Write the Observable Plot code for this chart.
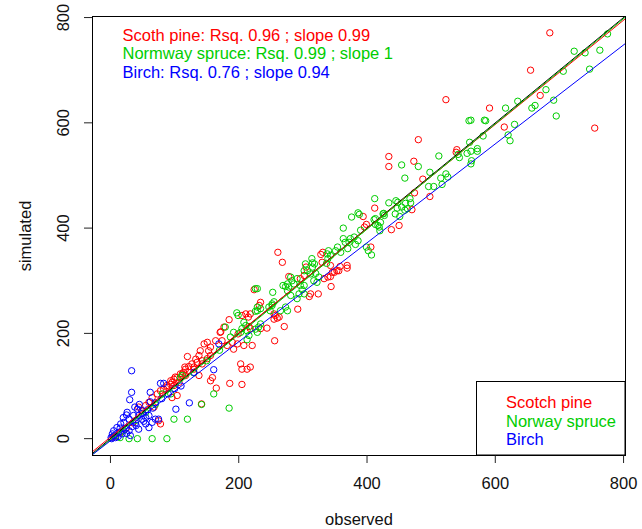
<!DOCTYPE html>
<html><head><meta charset="utf-8">
<script src="https://cdn.jsdelivr.net/npm/d3@7"></script>
<script src="https://cdn.jsdelivr.net/npm/@observablehq/plot@0.6"></script>
<style>body{margin:0;background:#fff;}</style>
</head><body><div id="chart"></div>
<script>
// ---- data ----
const species = ["Scotch pine", "Norway spruce", "Birch"];
const colors = ["#FF0000", "#00CD00", "#0000FF"];
const annotations = [
  "Scoth pine: Rsq. 0.96 ; slope 0.99",
  "Normway spruce: Rsq. 0.99 ; slope 1",
  "Birch: Rsq. 0.76 ; slope 0.94"
];
const slopes = [0.99, 1, 0.94];
const intercepts = [3, -2, -4];
const xTicks = [0, 200, 400, 600, 800];
const yTicks = [0, 200, 400, 600, 800];
const xLabel = "observed";
const yLabel = "simulated";

const pine = [
[685,771],[655,700],[670,652],[591,628],[614,592],[755,590],
[523,644],[480,568],[540,549],[539,544],[434,536],[434,517],[473,527],[487,493],[498,460],[474,467],[412,438],[394,422],[399,407],[450,405],[438,397],[396,402],[470,435],
[406,364],[261,354],[268,335],[331,354],[328,350],[330,335],[343,329],[353,319],[356,319],[349,316],[358,327],[369,329],[369,324],[343,308],[346,316],[339,307],[333,304],[344,289],[324,275],[310,270],[292,246],[305,326],[302,310],[296,304],[224,283],[234,259],[218,237],[205,234],[255,237],[263,231],[312,275],
[278,308],[232,253],[271,213],[257,234],[260,229],[255,227],[256,186],[215,231],[211,237],[185,226],[177,212],[172,203],[216,213],[218,209],[234,209],[244,210],[208,177],[221,177],[203,142],[213,132],[205,132],[218,136],[186,105],[205,103],[165,96],[199,199],[198,180],[190,183],[192,170],[182,177],[174,186],[171,202],[164,186],[156,174],[151,183],[146,180],[153,167],[140,167],[156,158],[151,152],[143,148],[135,145],[127,142],[130,136],[122,137],[117,132],[114,126],[109,123],[104,116],[99,113],[96,107],[94,103],[88,101],[83,94],[159,116],[156,110],[138,120],[117,120],[142,66],
[120,156],[133,151],[138,158],[143,142],[130,132],[116,136],[112,123],[101,117],[94,110],[107,107],[99,101],[88,98],[78,91],[73,85],[65,78],[60,69],[55,63],[68,60],[49,53],[44,60],[75,34],[78,28],[96,78],[104,82],
[5,3],[15,12],[25,20],[35,30]
];
const spruce = [
[723,736],[706,698],[747,702],[679,663],[662,633],[657,628],[635,641],[616,628],[691,643],[695,613],[583,605],[562,605],[630,597],[620,577],[623,566],[581,575],[572,551],[775,769],[763,738],[740,733],
[559,604],[585,604],[560,563],[572,546],[562,546],[556,542],[544,534],[542,540],[512,537],[563,528],[562,522],[454,520],[480,517],[459,495],[498,506],[523,503],[526,497],[515,495],[517,483],[504,479],[496,479],[412,456],[434,448],[445,452],[448,449],[460,447],[467,456],[468,448],[447,438],[454,440],[463,437],[459,434],[426,428],[413,418],[421,411],[444,427],[451,422],[419,402],[413,407],
[376,421],[386,429],[388,426],[363,400],[390,396],[411,416],[420,395],[417,405],[425,427],[427,424],[380,383],[374,380],[363,380],[366,373],[372,373],[386,376],[382,369],[354,364],[351,357],[370,361],[359,354],[402,357],[407,349],[399,364],[340,357],[338,351],[343,348],[339,342],[337,333],[314,342],[318,332],[315,326],[307,319],[320,314],[302,319],[304,332],[315,334],[312,313],[325,307],[322,297],[317,300],[281,307],[283,300],[291,304],[278,288],[286,294],[296,291],[302,291],[253,278],[229,285],[226,285],[255,260],[276,281],[281,272],[291,266],[299,283],[302,275],[294,275],[229,250],[247,250],[252,256],[273,250],[276,243],[265,243],
[269,291],[276,294],[273,289],[252,253],[249,243],[234,247],[229,243],[226,242],[197,239],[199,234],[179,212],[192,202],[187,193],[208,221],[211,215],[205,209],[213,205],[216,196],[234,218],[231,212],[226,208],[229,202],[213,188],[203,202],[109,116],[94,85],[161,85],[142,65],[185,58],
[99,37],[120,37],[29,0],[42,0],[65,0],[88,0],[112,120],[81,85],
[15,2],[8,5],[20,15],[40,35],[55,50],[70,65],[130,125],[150,148],[170,168]
];
const birch = [
[33,129],[33,88],[30,74],[78,105],[83,105],[62,88],[123,68],[102,56],[26,50],[42,56],[49,53],[44,44],[36,44],[29,37],[49,37],[55,40],[60,44],[21,31],[16,28],[39,30],[34,23],[44,18],[55,28],[70,37],[75,37],[65,31],[60,21],[10,21],[5,15],[3,9],[1,2],[8,2],[18,9],[13,12],[23,18],[29,15],[31,6],
[130,126],[161,131],[169,180],[62,70],[70,68],[80,76],[90,85],[100,95],[110,100],[2,0],[6,6],[12,4],
[20,40],[25,45],[38,60],[45,65],[15,20],[25,10],[50,48],[58,55],[66,58],[40,25],[52,33]
];
const seriesPoints = [pine, spruce, birch];

// ---- layout ----
const W = 642, H = 529;
const mL = 92, mT = 16, mR = 17, mB = 74;
const xDomain = [-28, 803], yDomain = [-32, 802];
const font = "'Liberation Sans', Arial, sans-serif";
const fs = 16.5;

const toObj = (arr) => arr.map(([x, y]) => ({x, y}));
const regLines = species.map((s, i) => xDomain.map(x => ({x, y: intercepts[i] + slopes[i] * x})));
const oneToOne = xDomain.map(x => ({x, y: x}));

const marks = [];
seriesPoints.forEach((pts, i) => {
  marks.push(Plot.dot(toObj(pts), {x: "x", y: "y", r: 3.2, stroke: colors[i], strokeWidth: 1, fill: "none"}));
});
marks.push(Plot.line(oneToOne, {x: "x", y: "y", stroke: "black", strokeWidth: 1, clip: true}));
regLines.forEach((ln, i) => {
  marks.push(Plot.line(ln, {x: "x", y: "y", stroke: colors[i], strokeWidth: 1, clip: true}));
});
marks.push(Plot.frame({stroke: "black"}));
marks.push(Plot.axisX(xTicks, {anchor: "bottom", tickSize: 8, stroke: "#222", fill: "none"}));
marks.push(Plot.axisY(yTicks, {anchor: "left", tickSize: 8, stroke: "#222", fill: "none"}));
marks.push(Plot.text(xTicks, {x: d => d, text: d => String(d), frameAnchor: "bottom", dy: 28, lineAnchor: "middle", textAnchor: "middle", fontSize: fs, fill: "#111"}));
marks.push(Plot.text(yTicks, {y: d => d, text: d => String(d), frameAnchor: "left", dx: -29, rotate: -90, lineAnchor: "middle", textAnchor: "middle", fontSize: fs, fill: "#111"}));
marks.push(Plot.text([xLabel], {text: d => d, frameAnchor: "bottom", dy: 64, lineAnchor: "middle", fontSize: fs, fill: "#111"}));
marks.push(Plot.text([yLabel], {text: d => d, frameAnchor: "left", dx: -67, rotate: -90, lineAnchor: "middle", textAnchor: "middle", fontSize: fs, fill: "#111"}));
annotations.forEach((t, i) => {
  marks.push(Plot.text([t], {text: d => d, frameAnchor: "top-left", dx: 30, dy: 19 + 18.5 * i, lineAnchor: "middle", textAnchor: "start", fontSize: fs, fill: colors[i]}));
});

const svg = Plot.plot({
  width: W, height: H,
  marginLeft: mL, marginTop: mT, marginRight: mR, marginBottom: mB,
  style: {fontFamily: font, fontSize: fs + "px", background: "white", color: "black"},
  x: {domain: xDomain, axis: null},
  y: {domain: yDomain, axis: null},
  marks
});

// legend box (bottom-right corner of the plot region)
const frameRight = W - mR, frameBottom = H - mB;
const legW = 148.5, legH = 73.5;
const lg = d3.select(svg).append("g").attr("text-anchor", "start");
lg.append("rect")
  .attr("x", frameRight - legW).attr("y", frameBottom - legH)
  .attr("width", legW).attr("height", legH)
  .attr("fill", "white").attr("stroke", "black").attr("stroke-width", 1);
species.forEach((s, i) => {
  lg.append("text")
    .attr("x", frameRight - legW + 29.5)
    .attr("y", frameBottom - legH + 21 + 18.3 * i)
    .attr("dy", "0.35em")
    .attr("text-anchor", "start")
    .attr("font-family", font).attr("font-size", fs)
    .attr("fill", colors[i])
    .text(s);
});

document.getElementById("chart").appendChild(svg);
</script>
</body></html>
